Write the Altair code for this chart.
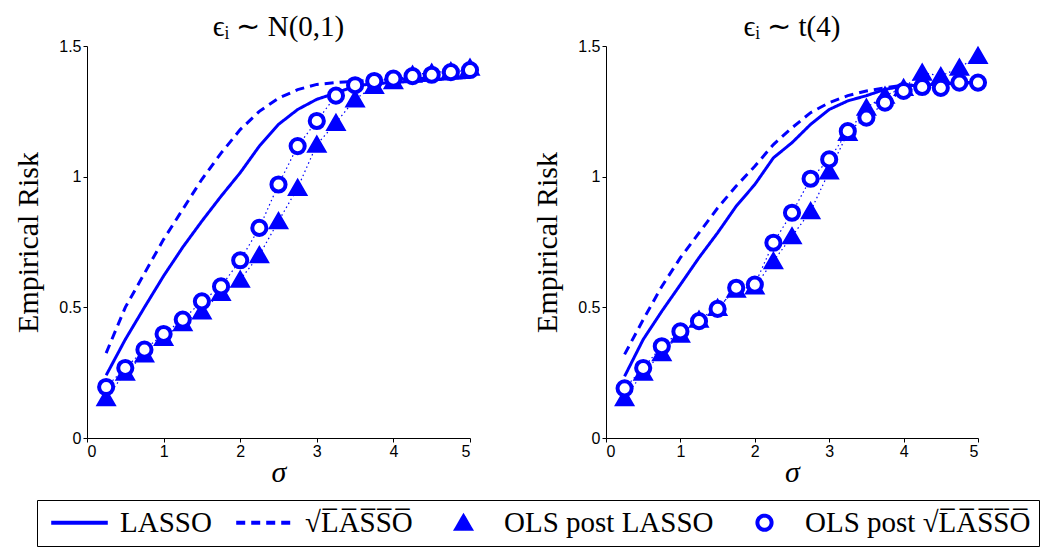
import altair as alt
import pandas as pd

sigma = [0.25, 0.5, 0.75, 1.0, 1.25, 1.5, 1.75, 2.0, 2.25, 2.5,
         2.75, 3.0, 3.25, 3.5, 3.75, 4.0, 4.25, 4.5, 4.75, 5.0]

S_LASSO = "LASSO"
S_SQ = "\u221aL\u0305A\u0305S\u0305S\u0305O\u0305"
S_OLS = "OLS post LASSO"
S_OLSSQ = "OLS post \u221aL\u0305A\u0305S\u0305S\u0305O\u0305"
series_names = [S_LASSO, S_SQ, S_OLS, S_OLSSQ]

# Left panel: normal errors
n_lasso = [0.24, 0.377, 0.50, 0.62, 0.73, 0.83, 0.925, 1.015, 1.117, 1.20,
           1.257, 1.296, 1.32, 1.347, 1.356, 1.36, 1.365, 1.37, 1.375, 1.38]
n_sqrt = [0.325, 0.50, 0.63, 0.76, 0.875, 0.99, 1.09, 1.18, 1.25, 1.30,
          1.333, 1.353, 1.36, 1.365, 1.37, 1.372, 1.375, 1.378, 1.381, 1.385]
n_ols = [0.153, 0.25, 0.32, 0.383, 0.44, 0.485, 0.555, 0.606, 0.70, 0.83,
         0.957, 1.123, 1.206, 1.296, 1.347, 1.366, 1.39, 1.398, 1.404, 1.417]
n_olssq = [0.195, 0.268, 0.338, 0.398, 0.453, 0.523, 0.58, 0.68, 0.804, 0.97,
           1.117, 1.213, 1.31, 1.35, 1.366, 1.375, 1.385, 1.39, 1.40, 1.408]

# Right panel: t(4) errors
t_lasso = [0.236, 0.377, 0.485, 0.587, 0.69, 0.785, 0.887, 0.97, 1.072, 1.13,
           1.20, 1.257, 1.29, 1.31, 1.334, 1.347, 1.35, 1.355, 1.36, 1.36]
t_sqrt = [0.32, 0.453, 0.58, 0.69, 0.785, 0.88, 0.964, 1.04, 1.123, 1.187,
          1.245, 1.283, 1.31, 1.328, 1.34, 1.35, 1.352, 1.355, 1.357, 1.36]
t_ols = [0.153, 0.25, 0.325, 0.396, 0.453, 0.498, 0.568, 0.58, 0.677, 0.772,
         0.868, 1.02, 1.168, 1.264, 1.31, 1.34, 1.398, 1.385, 1.417, 1.462]
t_olssq = [0.19, 0.268, 0.351, 0.408, 0.447, 0.494, 0.575, 0.587, 0.747, 0.862,
           0.992, 1.066, 1.174, 1.226, 1.283, 1.328, 1.343, 1.34, 1.36, 1.36]

BLUE = "#0000ff"
SERIF = "Liberation Serif"

color_scale = alt.Scale(domain=series_names, range=[BLUE] * 4)
dash_scale = alt.Scale(domain=series_names, range=[[1, 0], [9, 6], [1, 0], [1, 0]])
shape_scale = alt.Scale(domain=series_names,
                        range=["M-4,0H4", "M-4,0H4", "triangle-up", "circle"])
fill_scale = alt.Scale(domain=series_names,
                       range=[BLUE, BLUE, BLUE, "#ffffff"])
size_scale = alt.Scale(domain=series_names, range=[200, 200, 420, 150])


def long(names, arrays):
    rows = []
    for name, arr in zip(names, arrays):
        for s, v in zip(sigma, arr):
            rows.append({"sigma": s, "risk": v, "series": name})
    return pd.DataFrame(rows)


def panel(title, lasso, sq, ols, olssq, width):
    lines_df = long([S_LASSO, S_SQ], [lasso, sq])
    pts_df = long([S_OLS, S_OLSSQ], [ols, olssq])
    x = alt.X("sigma:Q", scale=alt.Scale(domain=[0, 5]),
              axis=alt.Axis(values=[0, 1, 2, 3, 4, 5], title="\u03c3",
                            titleFontStyle="italic", format="d"))
    y = alt.Y("risk:Q", scale=alt.Scale(domain=[0, 1.5]),
              axis=alt.Axis(values=[0, 0.5, 1, 1.5], title="Empirical Risk",
                            format="~g"))
    leg = alt.Legend(title=None, orient="none", legendX=-50, legendY=454)
    line_layer = alt.Chart(lines_df).mark_line(strokeWidth=3).encode(
        x=x, y=y,
        color=alt.Color("series:N", scale=color_scale, legend=leg),
        strokeDash=alt.StrokeDash("series:N", scale=dash_scale, legend=leg),
    )
    dotted = alt.Chart(pts_df).mark_line(strokeWidth=1.2, strokeDash=[1.5, 3],
                                         color=BLUE).encode(
        x=x, y=y, detail="series:N")
    points = alt.Chart(pts_df).mark_point(strokeWidth=4, opacity=1).encode(
        x=x, y=y,
        color=alt.Color("series:N", scale=color_scale, legend=leg),
        shape=alt.Shape("series:N", scale=shape_scale, legend=leg),
        fill=alt.Fill("series:N", scale=fill_scale, legend=leg),
        size=alt.Size("series:N", scale=size_scale, legend=None),
    )
    return alt.layer(line_layer, dotted, points).properties(
        width=width, height=392,
        title=alt.TitleParams(title, font=SERIF, fontSize=29,
                              fontWeight="normal", offset=-4),
    )


left = panel("\u03f5\u1d62 \u223c N(0,1)", n_lasso, n_sqrt, n_ols, n_olssq, 383)
right = panel("\u03f5\u1d62 \u223c t(4)", t_lasso, t_sqrt, t_ols, t_olssq, 372)

chart = alt.hconcat(left, right, spacing=46).configure_view(
    stroke=None
).configure_axis(
    labelFont="Liberation Sans", labelFontSize=16, labelColor="black",
    domainColor="black", tickColor="black", tickSize=4, grid=False,
    titleFont=SERIF, titleFontSize=30, titleFontWeight="normal",
    titleColor="black",
).configure_axisY(titlePadding=15).configure_axisX(
    titlePadding=-2, labelPadding=1
).configure_legend(
    direction="horizontal", columns=4,
    strokeColor="black", padding=8, labelFont=SERIF, labelFontSize=29,
    labelColor="black", symbolSize=200, symbolStrokeWidth=4,
    columnPadding=16, labelLimit=400, labelOffset=26, symbolOffset=20,
).configure_title(color="black")

chart.save("out.html", embed_options={"renderer": "svg", "actions": False})
